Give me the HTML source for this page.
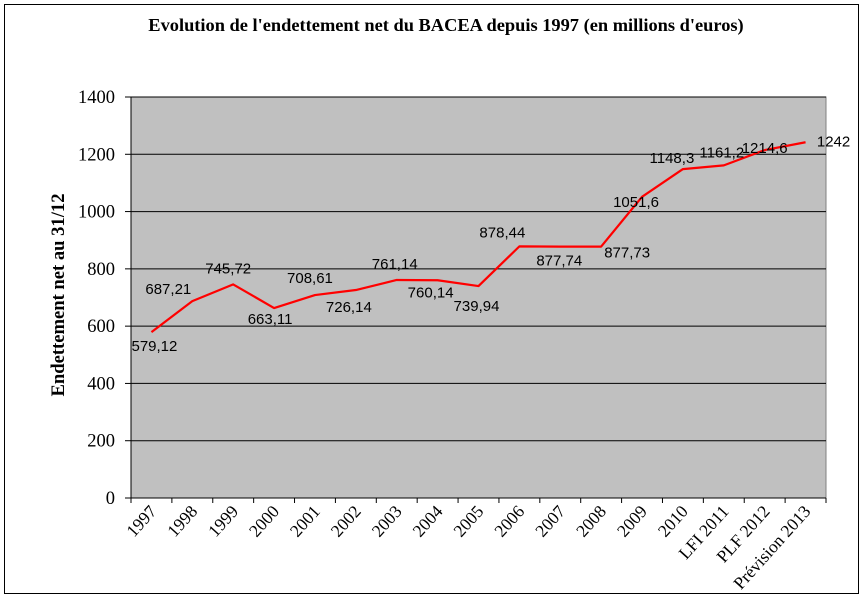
<!DOCTYPE html>
<html><head><meta charset="utf-8"><style>
body{margin:0;background:#fff;}
svg{display:block;}
text{font-family:"Liberation Sans",sans-serif;}
.serif{font-family:"Liberation Serif",serif;}
</style></head><body>
<svg id="chart" width="863" height="598" xmlns="http://www.w3.org/2000/svg">
<rect x="4.5" y="4.5" width="854" height="589" fill="#fff" stroke="#000" stroke-width="1"/>
<text class="serif" x="446" y="31" text-anchor="middle" font-size="18.4" font-weight="bold">Evolution de l'endettement net du BACEA depuis 1997 (en millions d'euros)</text>
<text class="serif" transform="translate(64,295) rotate(-90)" text-anchor="middle" font-size="18.6" font-weight="bold">Endettement net au 31/12</text>
</svg>
<script>
const categories=["1997","1998","1999","2000","2001","2002","2003","2004","2005","2006","2007","2008","2009","2010","LFI 2011","PLF 2012","Prévision 2013"];
const values=[579.12,687.21,745.72,663.11,708.61,726.14,761.14,760.14,739.94,878.44,877.74,877.73,1051.6,1148.3,1161.2,1214.6,1242];
const valueLabels=["579,12","687,21","745,72","663,11","708,61","726,14","761,14","760,14","739,94","878,44","877,74","877,73","1051,6","1148,3","1161,2","1214,6","1242"];
const yTicks=[0,200,400,600,800,1000,1200,1400];
const labelDx=[3,-24,-5,-4,-5,-7,-2,-7,-2,-17,-1,26,-6,-11,-2,0,28];
const labelDy=[19,-7,-11,16,-12,22,-11,17,25,-9,19,11,10,-6,-8,3,4];
const NS="http://www.w3.org/2000/svg";
const svg=document.getElementById('chart');
const L=131,R=826,T=97,B=498,yMax=1400;
const bw=(R-L)/categories.length;
const xs=i=>L+bw*(i+0.5);
const ys=v=>B-v/yMax*(B-T);
function mk(tag,attrs,parent){const e=document.createElementNS(NS,tag);for(const k in attrs)e.setAttribute(k,attrs[k]);(parent||svg).appendChild(e);return e;}
const plot=mk('rect',{x:L,y:T,width:R-L,height:B-T,fill:'#c0c0c0',stroke:'#808080','stroke-width':1});


yTicks.forEach(t=>{
  const y=ys(t);
  if(t>0){const g=mk('line',{x1:L,x2:R,y1:y,y2:y,stroke:'#000','stroke-width':1});
  
  }
  const tk=mk('line',{x1:L-6,x2:L,y1:y,y2:y,stroke:'#000'});
  
  
  const tx=mk('text',{x:L-16,y:y+6,'text-anchor':'end','font-size':18.5,'class':'serif'});
  tx.textContent=t;
  
  
});
const ya=mk('line',{x1:L,x2:L,y1:T,y2:B,stroke:'#000'});


const xa=mk('line',{x1:L,x2:R,y1:B,y2:B,stroke:'#000'});


for(let i=0;i<=categories.length;i++){
  const x=L+bw*i;
  const tk=mk('line',{x1:x,x2:x,y1:B,y2:B+5,stroke:'#000'});
  
  
}
categories.forEach((c,i)=>{
  const x=xs(i)+6,y=B+14;
  const tx=mk('text',{x:x,y:y,'text-anchor':'end','font-size':17.5,'class':'serif',transform:`rotate(-48 ${x} ${y})`});
  tx.textContent=c;
  
  
});
const pts=values.map((v,i)=>xs(i)+','+ys(v)).join(' ');
const line=mk('polyline',{points:pts,fill:'none',stroke:'#ff0000','stroke-width':2.2,'stroke-linejoin':'round'});


values.forEach((v,i)=>{
  const tx=mk('text',{x:xs(i)+labelDx[i],y:ys(v)+labelDy[i],'text-anchor':'middle','font-size':15,fill:'#000'});
  tx.textContent=valueLabels[i];
  
  
});
</script>
</body></html>
